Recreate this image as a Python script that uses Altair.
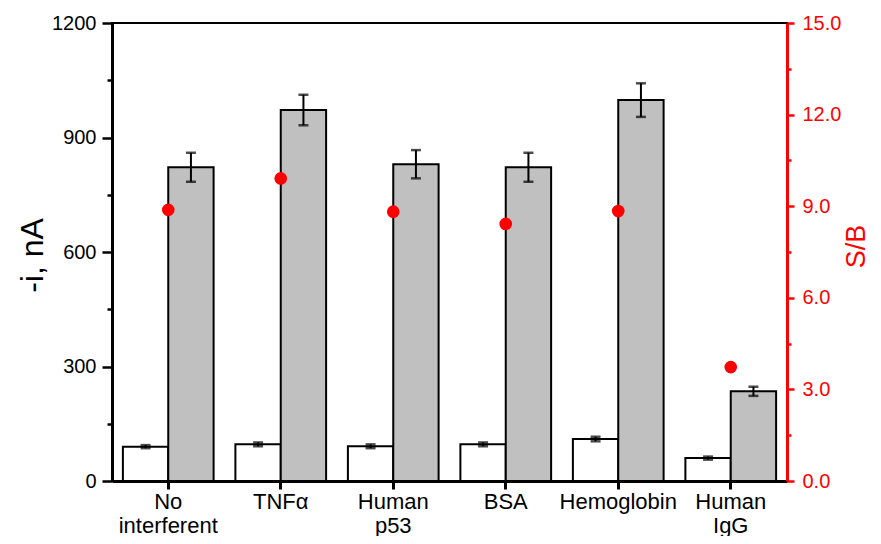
import altair as alt
import pandas as pd

categories = ["No interferent", "TNFα", "Human p53", "BSA", "Hemoglobin", "Human IgG"]
series = ["Blank", "Signal"]
blank_values = [90, 96, 91, 96, 110, 60]
blank_errors = [4, 5, 5, 5, 6, 4]
signal_values = [822, 972, 830, 822, 998, 235]
signal_errors = [38, 40, 37, 38, 44, 12]
sb_values = [8.88, 9.91, 8.82, 8.42, 8.84, 3.73]

rows = []
for i, c in enumerate(categories):
    rows.append({"cat": c, "series": series[0], "value": blank_values[i],
                 "lo": blank_values[i] - blank_errors[i], "hi": blank_values[i] + blank_errors[i]})
    rows.append({"cat": c, "series": series[1], "value": signal_values[i],
                 "lo": signal_values[i] - signal_errors[i], "hi": signal_values[i] + signal_errors[i]})
bars_df = pd.DataFrame(rows)
sb_df = pd.DataFrame({"cat": categories, "sb": sb_values})

FONT = "Liberation Sans"

x_enc = alt.X("cat:N", sort=categories,
              scale=alt.Scale(paddingInner=0, paddingOuter=0),
              axis=alt.Axis(title=None, labelAngle=0, labelFontSize=22, labelColor="black",
                            labelExpr="split(datum.label, ' ')", labelLineHeight=24,
                            labelPadding=2, tickSize=8, tickWidth=3, tickColor="black",
                            domainColor="black", domainWidth=3, bandPosition=0.5,
                            labelBaseline="top"))
xoff = alt.XOffset("series:N", sort=series,
                   scale=alt.Scale(paddingInner=0, paddingOuter=0.24))

y_scale = alt.Scale(domain=[0, 1200], nice=False, zero=True)
y_axis = alt.Axis(title="-i, nA", values=[i * 150 for i in range(9)],
                  labelExpr="datum.value % 300 === 0 ? datum.label : ''",
                  labelFontSize=20, labelColor="black", labelPadding=6,
                  tickSize={"condition": {"test": "datum.value % 300 === 0", "value": 10}, "value": 5},
                  tickWidth=2.5, tickColor="black", domainColor="black", domainWidth=3,
                  grid=False, titleFontSize=32, titleFontWeight="normal", titleColor="black",
                  titleAngle=270, titleX=-80, titleY=232, titleAlign="center",
                  titleBaseline="middle", format="d")

bars = alt.Chart(bars_df).mark_bar(stroke="black", strokeWidth=2).encode(
    x=x_enc, xOffset=xoff,
    y=alt.Y("value:Q", scale=y_scale, axis=y_axis),
    fill=alt.Fill("series:N", scale=alt.Scale(domain=series, range=["white", "#c0c0c0"]), legend=None),
)
err_rule = alt.Chart(bars_df).mark_rule(color="black", strokeWidth=2).encode(
    x=alt.X("cat:N", sort=categories), xOffset=xoff,
    y=alt.Y("lo:Q", scale=y_scale), y2="hi:Q",
)
cap_lo = alt.Chart(bars_df).mark_tick(color="black", size=10, thickness=2.5).encode(
    x=alt.X("cat:N", sort=categories), xOffset=xoff,
    y=alt.Y("lo:Q", scale=y_scale),
)
cap_hi = alt.Chart(bars_df).mark_tick(color="black", size=10, thickness=2.5).encode(
    x=alt.X("cat:N", sort=categories), xOffset=xoff,
    y=alt.Y("hi:Q", scale=y_scale),
)
left = alt.layer(bars, err_rule, cap_lo, cap_hi)

points = alt.Chart(sb_df).mark_point(filled=True, color="#ff0000", size=160, opacity=1).encode(
    x=alt.X("cat:N", sort=categories),
    y=alt.Y("sb:Q", scale=alt.Scale(domain=[0, 15], nice=False),
            axis=alt.Axis(title="S/B", orient="right", values=[i * 1.5 for i in range(11)],
                          labelExpr="datum.value % 3 === 0 ? format(datum.value, '.1f') : ''",
                          labelFontSize=20, labelColor="#ff0000", labelPadding=8,
                          tickSize={"condition": {"test": "datum.value % 3 === 0", "value": 7}, "value": 4},
                          tickWidth=2.5, tickColor="#ff0000", domainColor="#ff0000", domainWidth=3,
                          grid=False, titleFontSize=27, titleFontWeight="normal",
                          titleColor="#ff0000", titleAngle=270, titleX=69, titleY=223,
                          titleAlign="center", titleBaseline="middle")),
)

chart = alt.layer(left, points).resolve_scale(y="independent").properties(
    width=675, height=458,
    autosize=alt.AutoSizeParams(type="none"),
    padding={"left": 104, "top": 15, "right": 86, "bottom": 55},
).configure(font=FONT).configure_view(stroke="black", strokeWidth=2)

chart.save("out.html", embed_options={"renderer": "svg", "actions": False})
